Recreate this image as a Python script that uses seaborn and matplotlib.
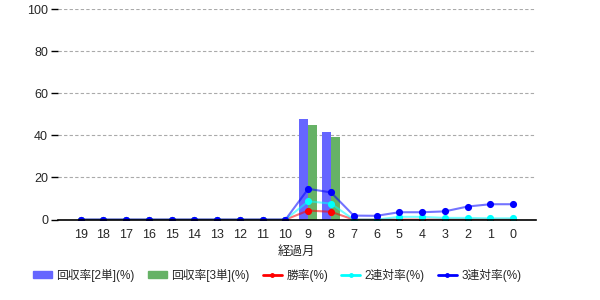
import matplotlib
matplotlib.use("Agg")
import matplotlib.pyplot as plt
import seaborn as sns
import pandas as pd
import numpy as np
from matplotlib.colors import to_rgba
from matplotlib.patches import Patch
from matplotlib.lines import Line2D

months = ["19", "18", "17", "16", "15", "14", "13", "12", "11", "10",
          "9", "8", "7", "6", "5", "4", "3", "2", "1", "0"]
rec2 = [0, 0, 0, 0, 0, 0, 0, 0, 0, 0, 47.6, 41.4, 0, 0, 0, 0, 0, 0, 0, 0]
rec3 = [0, 0, 0, 0, 0, 0, 0, 0, 0, 0, 44.9, 39.2, 0, 0, 0, 0, 0, 0, 0, 0]
win = [0, 0, 0, 0, 0, 0, 0, 0, 0, 0, 4.3, 3.7, 0, 0, 0, 0, 0, 0, 0, 0]
ren2 = [0, 0, 0, 0, 0, 0, 0, 0, 0, 0, 8.7, 7.6, 0, 0, 1.3, 1.3, 0.8, 0.8, 0.6, 0.6]
ren3 = [0, 0, 0, 0, 0, 0, 0, 0, 0, 0, 14.6, 12.9, 1.9, 1.8, 3.5, 3.5, 3.9, 6.2, 7.3, 7.3]

bar_names = ["回収率[2単](%)", "回収率[3単](%)"]
line_names = ["勝率(%)", "2連対率(%)", "3連対率(%)"]
bar_colors = ["#6666ff", "#66b266"]
line_colors = ["#ff0000", "#00ffff", "#0000ff"]

sns.set_style("white")
plt.rcParams["font.family"] = ["Liberation Sans", "Noto Sans CJK JP", "DejaVu Sans"]
plt.rcParams["font.size"] = 9

bars = pd.DataFrame({
    "month": months * 2,
    "value": rec2 + rec3,
    "series": [bar_names[0]] * len(months) + [bar_names[1]] * len(months),
})
lines = pd.DataFrame({
    "month": months * 3,
    "value": win + ren2 + ren3,
    "series": sum([[n] * len(months) for n in line_names], []),
})

fig = plt.figure(figsize=(6, 3), dpi=100)
ax = fig.add_axes([0.0965, 0.268, 0.7965, 0.702])

sns.barplot(data=bars, x="month", y="value", hue="series", order=months,
            hue_order=bar_names, palette=bar_colors, width=0.8, dodge=True,
            saturation=1, linewidth=0, ax=ax, legend=False)

sns.pointplot(data=lines, x="month", y="value", hue="series", order=months,
              hue_order=line_names, palette=line_colors, markers="o",
              markersize=4, linewidth=1.5, dodge=False, ax=ax, legend=False)

for ln in ax.lines:
    c = ln.get_color()
    ln.set_markerfacecolor(c)
    ln.set_markeredgecolor(c)
    ln.set_color(to_rgba(c, 0.55))

ax.set_xlim(-1, 20)
ax.set_ylim(0, 100)
ax.set_yticks([0, 20, 40, 60, 80, 100])
ax.yaxis.grid(True, linestyle=(0, (3, 2)), color="#aaaaaa", linewidth=0.8)
ax.set_axisbelow(True)
for s in ["left", "top", "right"]:
    ax.spines[s].set_visible(False)
ax.spines["bottom"].set_color("black")
ax.spines["bottom"].set_linewidth(1.2)
ax.tick_params(axis="y", left=True, length=5, width=1, color="black", pad=2)
ax.tick_params(axis="x", bottom=False, pad=3)
ax.set_xlabel("経過月", labelpad=4)
ax.set_ylabel("")

handles = [Patch(color=bar_colors[0]), Patch(color=bar_colors[1])]
for c in line_colors:
    handles.append(Line2D([], [], color=c, marker="o", markersize=2.5, linewidth=2))
fig.legend(handles, bar_names + line_names, loc="center", ncol=5,
           bbox_to_anchor=(0.462, 0.083), frameon=False, handlelength=1.6,
           handleheight=0.6, columnspacing=1.1, handletextpad=0.4,
           fontsize=8.5)

fig.savefig("out.png", dpi=100)
